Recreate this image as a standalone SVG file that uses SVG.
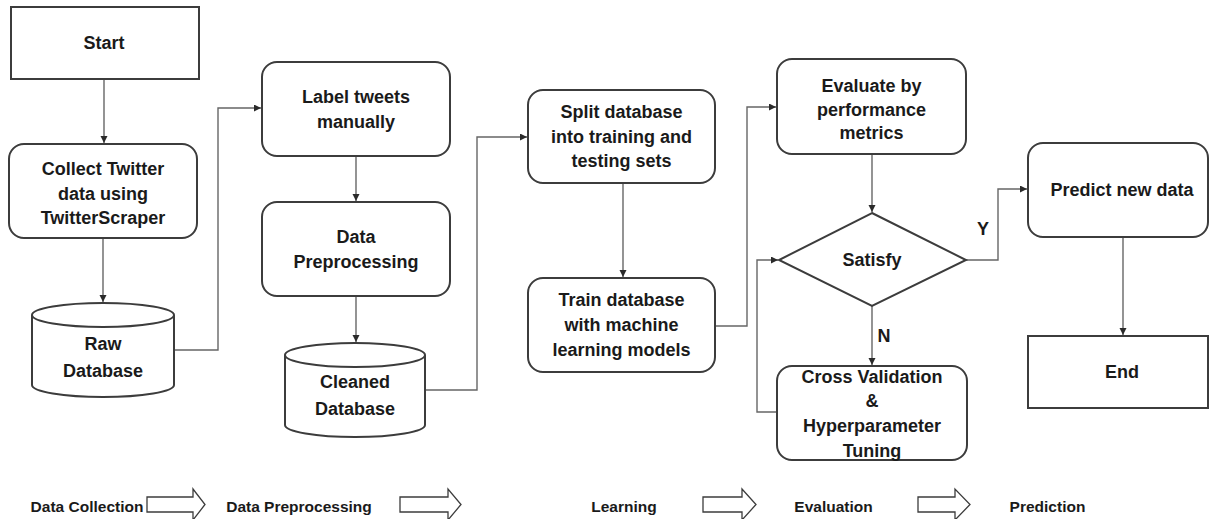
<svg xmlns="http://www.w3.org/2000/svg" width="1209" height="519" viewBox="0 0 1209 519">
<style>
.box{fill:#fff;stroke:#3c3c3c;stroke-width:2}
.t{font-family:"Liberation Sans",Arial,sans-serif;font-weight:bold;font-size:18px;fill:#1a1a1a;text-anchor:middle}
.b{font-size:15.5px}
.c{fill:none;stroke:#666;stroke-width:1.4}
.fa{fill:#fff;stroke:#3c3c3c;stroke-width:1.3}
</style>
<defs>
<marker id="ah" markerUnits="userSpaceOnUse" markerWidth="8" markerHeight="8" refX="7" refY="3.5" orient="auto">
<path d="M0,0 L7,3.5 L0,7 z" fill="#2a2a2a"/>
</marker>
</defs>
<rect width="1209" height="519" fill="#fff"/>
<g id="connectors">
<path class="c" d="M104,79 V143" marker-end="url(#ah)"/>
<path class="c" d="M103,238 V302" marker-end="url(#ah)"/>
<path class="c" d="M174,350 H218 V108 H261" marker-end="url(#ah)"/>
<path class="c" d="M356,156 V201" marker-end="url(#ah)"/>
<path class="c" d="M356,296 V342" marker-end="url(#ah)"/>
<path class="c" d="M425,390 H477 V137 H527" marker-end="url(#ah)"/>
<path class="c" d="M623,183 V277" marker-end="url(#ah)"/>
<path class="c" d="M715,326 H747 V107 H776" marker-end="url(#ah)"/>
<path class="c" d="M872,154 V212" marker-end="url(#ah)"/>
<path class="c" d="M872,306 V365" marker-end="url(#ah)"/>
<path class="c" d="M777,412 H757 V260 H778" marker-end="url(#ah)"/>
<path class="c" d="M966,260 H998 V189 H1027" marker-end="url(#ah)"/>
<path class="c" d="M1123,237 V335" marker-end="url(#ah)"/>
<text class="t" x="983" y="235">Y</text>
<text class="t" x="884" y="342">N</text>
</g>
<g id="start">
<rect class="box" x="11" y="7" width="188" height="72"/>
<text class="t" x="104" y="49">Start</text>
</g>
<g id="collect">
<rect class="box" x="9" y="144" width="188" height="94" rx="15"/>
<text class="t" x="103" y="175">Collect Twitter</text>
<text class="t" x="103" y="199.5">data using</text>
<text class="t" x="103" y="224">TwitterScraper</text>
</g>
<g id="rawdb">
<path class="box" d="M32,315 V385 A71,12 0 0 0 174,385 V315 A71,12 0 0 0 32,315 A71,12 0 0 0 174,315"/>
<text class="t" x="103" y="350">Raw</text>
<text class="t" x="103" y="377">Database</text>
</g>
<g id="label">
<rect class="box" x="262" y="62" width="188" height="94" rx="15"/>
<text class="t" x="356" y="103">Label tweets</text>
<text class="t" x="356" y="128">manually</text>
</g>
<g id="preprocess">
<rect class="box" x="262" y="202" width="188" height="94" rx="15"/>
<text class="t" x="356" y="243">Data</text>
<text class="t" x="356" y="268">Preprocessing</text>
</g>
<g id="cleaneddb">
<path class="box" d="M285,355 V425 A70,12 0 0 0 425,425 V355 A70,12 0 0 0 285,355 A70,12 0 0 0 425,355"/>
<text class="t" x="355" y="388">Cleaned</text>
<text class="t" x="355" y="415">Database</text>
</g>
<g id="split">
<rect class="box" x="528" y="90" width="187" height="93" rx="15"/>
<text class="t" x="621.5" y="118">Split database</text>
<text class="t" x="621.5" y="143">into training and</text>
<text class="t" x="621.5" y="167">testing sets</text>
</g>
<g id="train">
<rect class="box" x="528" y="278" width="187" height="94" rx="15"/>
<text class="t" x="621.5" y="306">Train database</text>
<text class="t" x="621.5" y="331">with machine</text>
<text class="t" x="621.5" y="356">learning models</text>
</g>
<g id="evaluate">
<rect class="box" x="777" y="59" width="189" height="95" rx="15"/>
<text class="t" x="871.5" y="92">Evaluate by</text>
<text class="t" x="871.5" y="116">performance</text>
<text class="t" x="871.5" y="139">metrics</text>
</g>
<g id="satisfy">
<polygon class="box" points="872,213 966,260 872,306 779,260"/>
<text class="t" x="872" y="266">Satisfy</text>
</g>
<g id="crossval">
<rect class="box" x="777" y="366" width="190" height="94" rx="15"/>
<text class="t" x="872" y="383">Cross Validation</text>
<text class="t" x="872" y="407">&amp;</text>
<text class="t" x="872" y="432">Hyperparameter</text>
<text class="t" x="872" y="457">Tuning</text>
</g>
<g id="predict">
<rect class="box" x="1028" y="143" width="180" height="94" rx="15"/>
<text class="t" x="1122" y="196">Predict new data</text>
</g>
<g id="end">
<rect class="box" x="1028" y="336" width="180" height="72"/>
<text class="t" x="1122" y="378">End</text>
</g>
<g id="stages">
<text class="t b" x="87" y="512">Data Collection</text>
<polygon class="fa" points="147,497 193,497 193,489 205,504.5 193,520 193,512 147,512"/>
<text class="t b" x="299" y="512">Data Preprocessing</text>
<polygon class="fa" points="400,497 448,497 448,489 461,504.5 448,520 448,512 400,512"/>
<text class="t b" x="624" y="512">Learning</text>
<polygon class="fa" points="703,497 742,497 742,489 756,504.5 742,520 742,512 703,512"/>
<text class="t b" x="833.5" y="512">Evaluation</text>
<polygon class="fa" points="918,497 955,497 955,489 970,504.5 955,520 955,512 918,512"/>
<text class="t b" x="1047.5" y="512">Prediction</text>
</g>
</svg>
